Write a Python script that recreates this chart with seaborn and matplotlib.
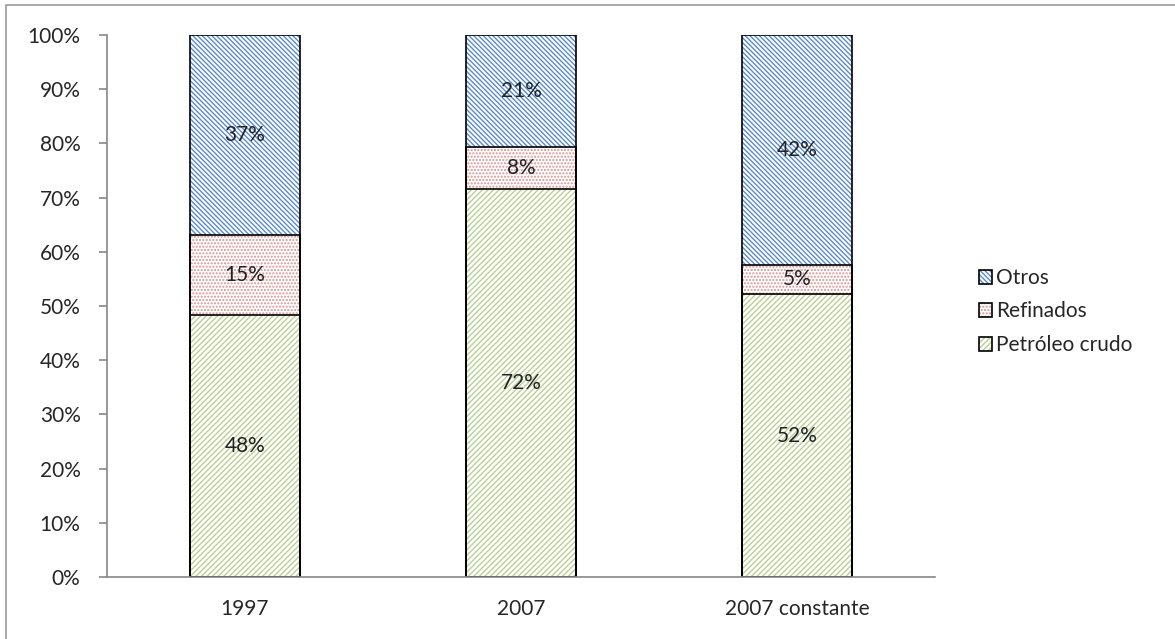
import matplotlib
matplotlib.use('Agg')
import matplotlib.pyplot as plt
import matplotlib.patches as mpatches
from matplotlib.legend_handler import HandlerTuple
import seaborn as sns
import pandas as pd
import numpy as np

# Datos (porcentaje del total)
categorias = ['1997', '2007', '2007 constante']
petroleo_crudo = [48.4, 71.6, 52.2]
refinados = [14.7, 7.7, 5.4]
otros = [36.9, 20.7, 42.4]
series = ['Petróleo crudo', 'Refinados', 'Otros']

colores = {'Petróleo crudo': '#b9d192', 'Refinados': '#d9908e', 'Otros': '#5a8bd0'}
tramas = {'Petróleo crudo': '//////', 'Refinados': '.....', 'Otros': '\\\\\\\\\\\\\\'}

sns.set_style('white')
plt.rcParams['font.family'] = ['Lato', 'DejaVu Sans']
plt.rcParams['hatch.linewidth'] = 1.0

df = pd.DataFrame({'categoria': categorias, 'Petróleo crudo': petroleo_crudo,
                   'Refinados': refinados, 'Otros': otros})
df['c1'] = df['Petróleo crudo']
df['c2'] = df['c1'] + df['Refinados']
df['c3'] = df['c2'] + df['Otros']

fig = plt.figure(figsize=(11.75, 6.39), dpi=100)
ax = fig.add_axes([107 / 1175, 62 / 639, 828 / 1175, 542 / 639])

# barras acumuladas, de arriba hacia abajo
for col, serie in [('c3', 'Otros'), ('c2', 'Refinados'), ('c1', 'Petróleo crudo')]:
    sns.barplot(data=df, x='categoria', y=col, color='white', saturation=1,
                edgecolor=colores[serie], linewidth=0, hatch=tramas[serie],
                width=0.4, errorbar=None, ax=ax)
# contornos negros
for col in ['c3', 'c2', 'c1']:
    sns.barplot(data=df, x='categoria', y=col, fill=False, edgecolor='black',
                linewidth=1.2, width=0.4, errorbar=None, ax=ax)

# etiquetas de porcentaje
for i in range(len(categorias)):
    base = 0
    for serie in series:
        v = df.loc[i, serie]
        ax.text(i, base + v / 2, f'{round(v):d}%', ha='center', va='center',
                fontsize=15, color='#222222')
        base += v

ax.set_xlim(-0.5, 2.5)
ax.set_ylim(0, 100)
ax.set_yticks(np.arange(0, 101, 10))
ax.set_yticklabels([f'{t}%' for t in range(0, 101, 10)])
ax.set_xlabel('')
ax.set_ylabel('')
ax.set_xticks([-0.5, 0.5, 1.5, 2.5], minor=True)
ax.tick_params(axis='x', which='major', length=0, pad=16, labelsize=15)
ax.tick_params(axis='x', which='minor', length=6, width=1.2, color='#888888', direction='out')
ax.tick_params(axis='y', length=6, width=1.2, color='#888888', direction='out', pad=13, labelsize=15, left=True)
for s in ['top', 'right']:
    ax.spines[s].set_visible(False)
for s in ['left', 'bottom']:
    ax.spines[s].set_color('#888888')
    ax.spines[s].set_linewidth(1.2)

nombres_leyenda = ['Otros', 'Refinados', 'Petróleo crudo']
handles = [(mpatches.Patch(facecolor='white', edgecolor=colores[s], hatch=tramas[s], linewidth=0),
            mpatches.Patch(facecolor='none', edgecolor='black', linewidth=1.2))
           for s in nombres_leyenda]
leg = ax.legend(handles, nombres_leyenda, loc='center left',
                bbox_to_anchor=(1.03, 0.49), frameon=False, fontsize=15,
                handler_map={tuple: HandlerTuple(ndivide=1)},
                handlelength=0.65, handleheight=0.65, handletextpad=0.2, labelspacing=0.65)

# marco exterior (solo bordes izquierdo y superior visibles)
fig.patches.append(mpatches.Rectangle((6 / 1175, -0.1), 1.2, 0.1 + 634 / 639,
                                      transform=fig.transFigure, fill=False,
                                      edgecolor='#999999', linewidth=1.2))

fig.savefig('out.png', dpi=100)
